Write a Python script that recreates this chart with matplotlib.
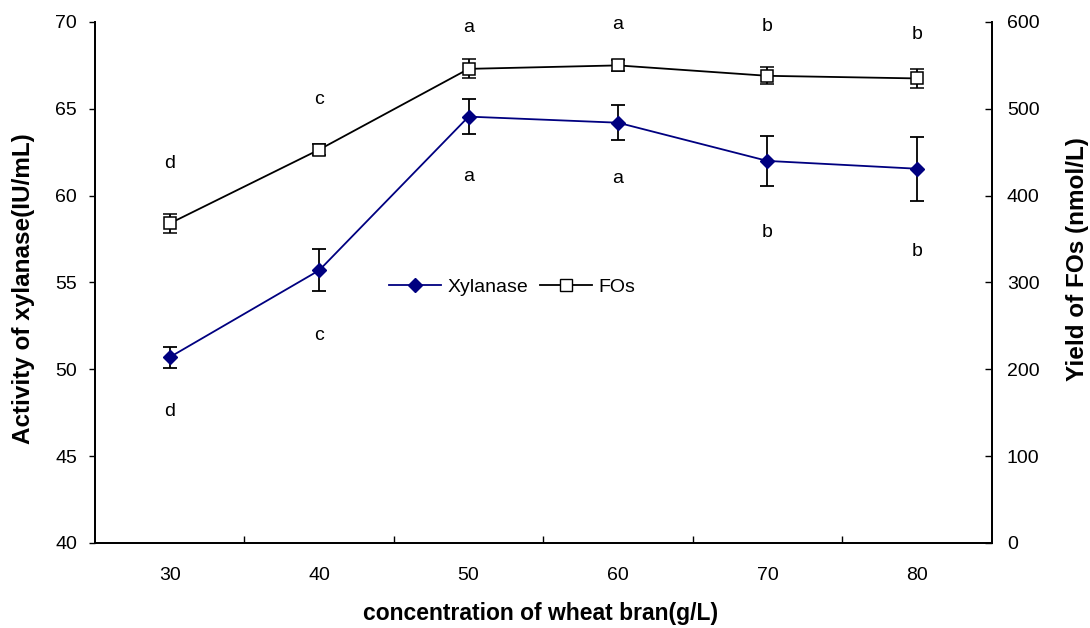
import matplotlib.pyplot as plt
from matplotlib.lines import Line2D
import numpy as np

plt.rcParams['font.family'] = ['Liberation Sans', 'DejaVu Sans']

# data
conc = [30, 40, 50, 60, 70, 80]
xylanase = [50.7, 55.7, 64.55, 64.2, 62.0, 61.55]
xylanase_err = [0.6, 1.2, 1.0, 1.0, 1.45, 1.85]
fos = [368, 453, 546, 550, 538, 535]
fos_err = [11, 6, 11, 6, 10, 11]
fos_letters = ['d', 'c', 'a', 'a', 'b', 'b']
xyl_letters = ['d', 'c', 'a', 'a', 'b', 'b']

XYL_COLOR = '#000080'


def make_plot():
    fig = plt.figure(figsize=(10.9, 6.28), dpi=100)
    ax = fig.add_axes([0.0872, 0.1354, 0.8225, 0.8296])
    ax2 = ax.twinx()

    x = np.arange(1, len(conc) + 1)

    # FOs on the right axis
    ax2.errorbar(x, fos, yerr=fos_err, color='black', ecolor='black',
                 elinewidth=1.3, capsize=5, capthick=1.3, lw=1.3,
                 marker='s', markersize=8, markerfacecolor='white',
                 markeredgecolor='black', markeredgewidth=1.1, zorder=3)
    # Xylanase on the left axis
    ax.errorbar(x, xylanase, yerr=xylanase_err, color=XYL_COLOR, ecolor='black',
                elinewidth=1.3, capsize=5, capthick=1.3, lw=1.3,
                marker='D', markersize=7, markerfacecolor=XYL_COLOR,
                markeredgecolor=XYL_COLOR, zorder=3)

    # significance letters (placed in left-axis units)
    top_y = [61.6, 65.3, 69.4, 69.6, 69.5, 69.0]
    bot_y = [47.3, 51.7, 60.85, 60.7, 57.6, 56.5]
    for xi, lt, ty in zip(x, fos_letters, top_y):
        ax.text(xi, ty, lt, ha='center', va='baseline', fontsize=14)
    for xi, lt, by in zip(x, xyl_letters, bot_y):
        ax.text(xi, by, lt, ha='center', va='baseline', fontsize=14)

    ax.set_xlim(0.5, 6.5)
    ax.set_ylim(40, 70)
    ax2.set_ylim(0, 600)
    ax.set_yticks(np.arange(40, 71, 5))
    ax2.set_yticks(np.arange(0, 601, 100))

    ax.set_xticks(x)
    ax.set_xticklabels([str(c) for c in conc])
    ax.set_xticks(np.arange(1.5, 6.5, 1), minor=True)
    ax.tick_params(axis='x', which='major', length=0, pad=17, labelsize=14)
    ax.tick_params(axis='x', which='minor', direction='in', length=5, width=1)
    ax.tick_params(axis='y', direction='out', length=4, width=1, labelsize=14, pad=9)
    ax2.tick_params(axis='y', direction='in', length=5, width=1, labelsize=14, pad=11)

    for a in (ax, ax2):
        a.spines['top'].set_visible(False)
        for s in ('left', 'right', 'bottom'):
            a.spines[s].set_linewidth(1.3)

    ax.set_xlabel('concentration of wheat bran(g/L)', fontsize=16.5,
                  fontweight='bold')
    ax.set_ylabel('Activity of xylanase(IU/mL)', fontsize=17.5,
                  fontweight='bold')
    ax2.set_ylabel('Yield of FOs (nmol/L)', fontsize=17.5,
                   fontweight='bold')
    ax.xaxis.set_label_coords(0.497, -0.114)
    ax.yaxis.set_label_coords(-0.067, 0.4875)
    ax2.yaxis.set_label_coords(1.0825, 0.545)

    handles = [
        Line2D([], [], color=XYL_COLOR, lw=1.3, marker='D', markersize=7,
               markerfacecolor=XYL_COLOR, markeredgecolor=XYL_COLOR),
        Line2D([], [], color='black', lw=1.3, marker='s', markersize=8,
               markerfacecolor='white', markeredgecolor='black'),
    ]
    ax.legend(handles, ['Xylanase', 'FOs'], ncol=2, frameon=False, fontsize=14,
              loc='center', bbox_to_anchor=(0.465, 0.491),
              handlelength=2.7, columnspacing=0.6, handletextpad=0.3)

    fig.savefig('out.png', dpi=100)
    plt.close(fig)


if __name__ == "__main__":
    make_plot()
